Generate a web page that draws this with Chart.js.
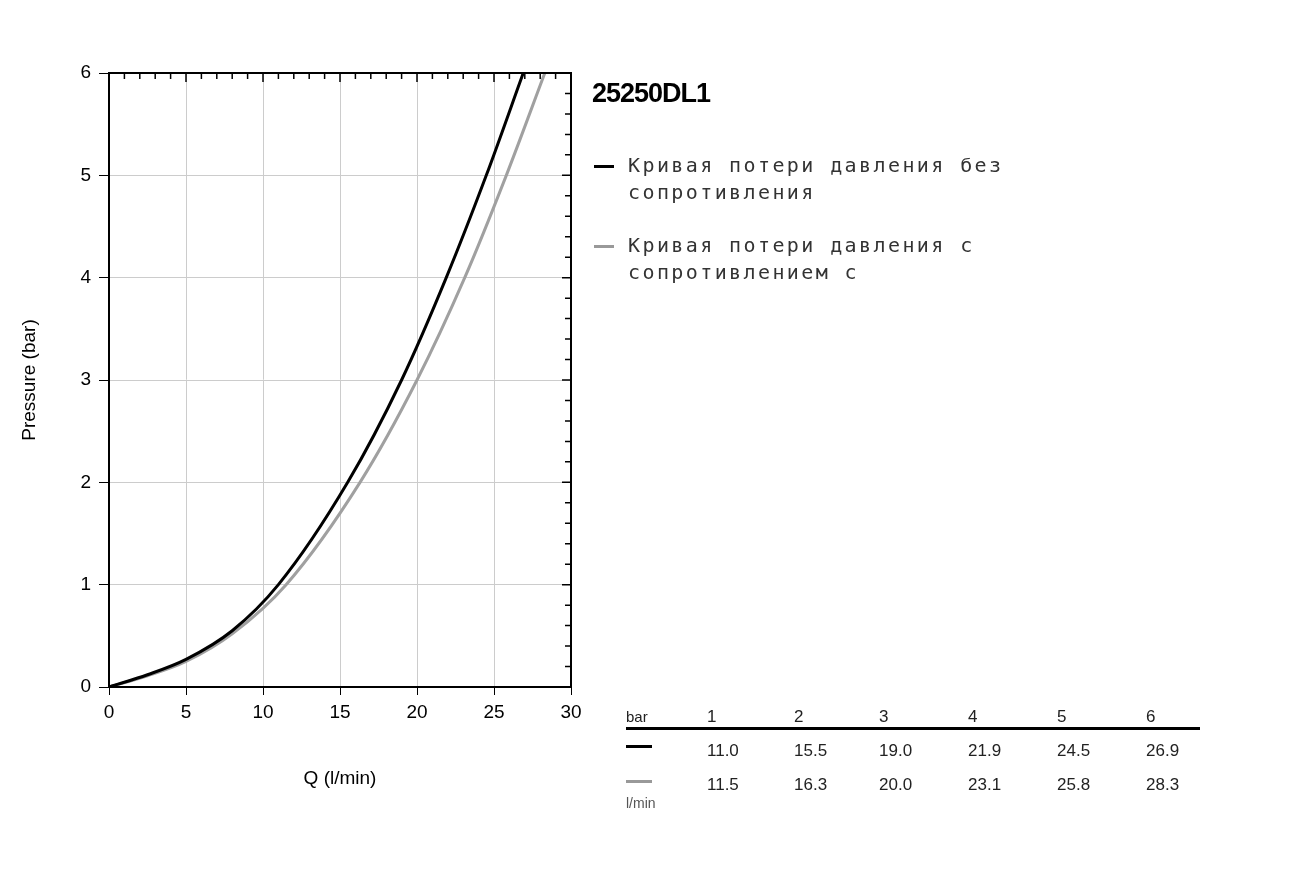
<!DOCTYPE html>
<html><head><meta charset="utf-8">
<script src="https://cdn.jsdelivr.net/npm/chart.js@4"></script>
<style>
body{margin:0;background:#fff;width:1310px;height:874px;position:relative;overflow:hidden;font-family:"Liberation Sans",Arial,sans-serif}
#wrap{position:absolute;left:0;top:0;width:1310px;height:874px}
.t{position:absolute;white-space:nowrap}
.mono{font-family:"DejaVu Sans Mono",monospace;font-size:20px;color:#333;line-height:27px;letter-spacing:2.4px}
.tab{font-size:17px;color:#222}
</style></head><body>
<div id="wrap"><canvas id="c" width="1310" height="874"></canvas></div>
<div class="t" style="left:592px;top:78px;font-size:27px;font-weight:bold;letter-spacing:-1px">25250DL1</div>
<div class="t mono" style="left:594px;top:152px"><span style="display:inline-block;width:20px;height:3px;background:#000;vertical-align:middle;margin-right:14px"></span>Кривая потери давления без<br><span style="margin-left:34px">сопротивления</span></div>
<div class="t mono" style="left:594px;top:232px"><span style="display:inline-block;width:20px;height:3px;background:#999;vertical-align:middle;margin-right:14px"></span>Кривая потери давления с<br><span style="margin-left:34px">сопротивлением с</span></div>
<div id="tbl"></div>
<script>
const barLabels=["1","2","3","4","5","6"];
const q1Table=["11.0","15.5","19.0","21.9","24.5","26.9"];
const q2Table=["11.5","16.3","20.0","23.1","25.8","28.3"];
const q1=[0,2.5,5,8,11.0,15.5,19.0,21.9,24.5,26.9];
const p1=[0,0.12,0.27,0.55,1,2,3,4,5,6];
const q2=[0,2.5,5,8,11.5,16.3,20.0,23.1,25.8,28.3];
const p2=[0,0.11,0.25,0.52,1,2,3,4,5,6];

let h='<div class="t tab" style="left:626px;top:708px;font-size:15px">bar</div>';
h+='<div class="t" style="left:626px;top:727px;width:574px;height:3px;background:#000"></div>';
h+='<div class="t" style="left:626px;top:745px;width:26px;height:3px;background:#000"></div>';
h+='<div class="t" style="left:626px;top:780px;width:26px;height:3px;background:#999"></div>';
h+='<div class="t tab" style="left:626px;top:795px;font-size:14px;color:#555">l/min</div>';
const xs=[707,794,879,968,1057,1146];
barLabels.forEach((b,i)=>{
 h+=`<div class="t tab" style="left:${xs[i]}px;top:707px">${b}</div>`;
 h+=`<div class="t tab" style="left:${xs[i]}px;top:741px">${q1Table[i]}</div>`;
 h+=`<div class="t tab" style="left:${xs[i]}px;top:775px">${q2Table[i]}</div>`;
});
document.getElementById('tbl').innerHTML=h;

const ticksPlugin={id:'mt',afterDraw(ch){
 const c=ch.ctx,x=ch.scales.x,y=ch.scales.y,a=ch.chartArea;
 c.save();c.strokeStyle='#000';c.lineWidth=1.5;c.beginPath();
 for(let v=1;v<30;v++){const px=x.getPixelForValue(v);const L=v%5?6:9;c.moveTo(px,a.top);c.lineTo(px,a.top+L);}
 for(let v=1;v<30;v++){const py=y.getPixelForValue(v/5);const L=v%5?6:9;c.moveTo(a.right,py);c.lineTo(a.right-L,py);}
 c.stroke();c.lineWidth=2;c.strokeRect(a.left,a.top,a.right-a.left,a.bottom-a.top);c.restore();}};

new Chart(document.getElementById('c'),{type:'scatter',
 data:{datasets:[
  {data:q1.map((v,i)=>({x:v,y:p1[i]})),showLine:true,borderColor:'#000',borderWidth:3,pointRadius:0,cubicInterpolationMode:'monotone'},
  {data:q2.map((v,i)=>({x:v,y:p2[i]})),showLine:true,borderColor:'#a0a0a0',borderWidth:3,pointRadius:0,cubicInterpolationMode:'monotone'}]},
 options:{responsive:false,animation:false,devicePixelRatio:1,
  layout:{padding:{left:14,right:739,top:73,bottom:80}},
  plugins:{legend:{display:false},tooltip:{enabled:false}},
  scales:{
   x:{min:0,max:30,ticks:{stepSize:5,color:'#000',font:{size:19,family:'Liberation Sans'},padding:6},
      grid:{color:'#ccc',tickColor:'#000',tickLength:8,lineWidth:1},border:{color:'#000',width:2},
      title:{display:true,text:'Q (l/min)',color:'#000',font:{size:19,family:'Liberation Sans'},padding:{top:30}},
      afterFit(s){s.height=107}},
   y:{min:0,max:6,ticks:{stepSize:1,color:'#000',font:{size:19,family:'Liberation Sans'},padding:8},
      grid:{color:'#ccc',tickColor:'#000',tickLength:10,lineWidth:1},border:{color:'#000',width:2},
      title:{display:true,text:'Pressure (bar)',color:'#000',font:{size:19,family:'Liberation Sans'},padding:{bottom:20}},
      afterFit(s){s.width=95}}}},
 plugins:[ticksPlugin]});
</script>
</body></html>
